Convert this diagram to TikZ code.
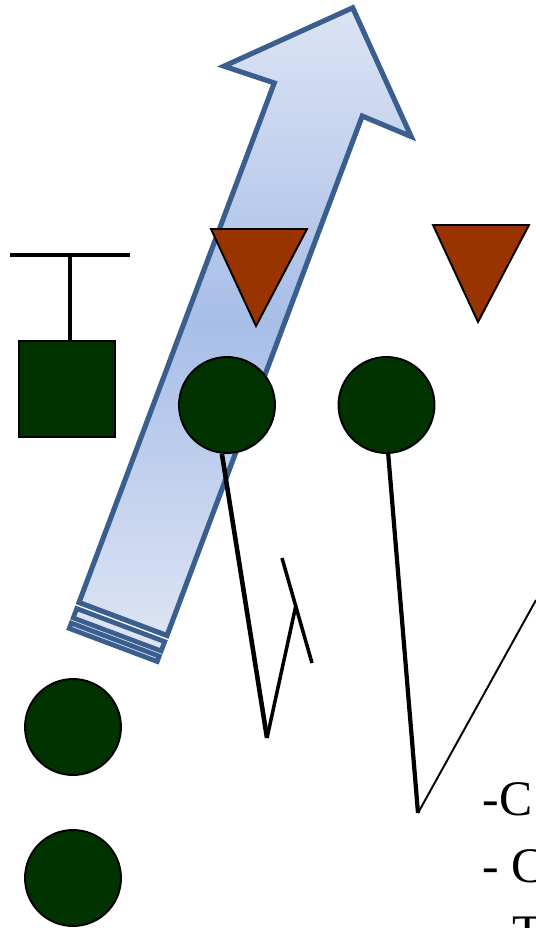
\documentclass[tikz,border=0pt]{standalone}
\usepackage{fontspec}
\setmainfont{Liberation Serif}
\definecolor{darkgreen}{HTML}{003300}
\definecolor{rust}{HTML}{993300}
\definecolor{arrowedge}{HTML}{3A5F8F}
\definecolor{arrowlight}{HTML}{DCE4F3}
\definecolor{arrowmid}{HTML}{A7BEE8}
\pgfdeclareverticalshading{arrowshade}{100bp}{color(0bp)=(arrowlight); color(25bp)=(arrowlight); color(50bp)=(arrowmid); color(75bp)=(arrowlight); color(100bp)=(arrowlight)}
\begin{document}
\begin{tikzpicture}[x=0.02cm, y=0.02cm, line width=2pt,
	dot/.style={circle, draw=black, line width=1.1pt, fill=darkgreen, minimum size=1.92cm, inner sep=0pt},
	tri/.style={draw=black, line width=1.1pt, fill=rust, line join=miter},
	stripe/.style={draw=arrowedge, line width=2.7pt, fill=arrowlight},
	txt/.style={anchor=base west, inner sep=0pt, font=\fontsize{28.3}{34}\selectfont}]
	\path[use as bounding box, clip] (0,0) rectangle (536,-928);
	% big striped arrow
	\begin{scope}[shift={(123,-619)}, rotate=69.4]
		\coordinate (tl) at (0,47); \coordinate (tr) at (0,-47);
		\coordinate (hl) at (555,47); \coordinate (hr) at (555,-47);
		\coordinate (bl) at (553,100); \coordinate (br) at (553,-100);
		\coordinate (tip) at (653,0);
		\draw[stripe] (-6.5,47) -- (-16.5,47) -- (-16.5,-47) -- (-6.5,-47) -- cycle;
		\draw[stripe] (-22,47) -- (-27.75,47) -- (-27.75,-47) -- (-22,-47) -- cycle;
	\end{scope}
	\draw[draw=arrowedge, line width=2.9pt, line join=miter, shading=arrowshade]
		(tl) -- (hl) -- (bl) -- (tip) -- (br) -- (hr) -- (tr) -- cycle;
	% T mark and square
	\node[draw=black, line width=1.1pt, fill=darkgreen, minimum size=1.92cm, inner sep=0pt] (sq) at (67,-389) {};
	\coordinate (bar) at (70,-255);
	\draw (10,-255) -- (130,-255);
	\draw[line width=2.3pt] (bar) -- (bar |- sq.north);
	% triangles
	\foreach \x/\y in {211/229, 433/225} {
		\draw[tri] (\x,-\y) -- (\x+96,-\y) -- (\x+45,-\y-97) -- cycle;
	}
	% circles
	\node[dot] (c1) at (227,-405) {};
	\node[dot] (c2) at (386.5,-405) {};
	\node[dot] (c3) at (73,-727) {};
	\node[dot] (c4) at (73,-878) {};
	% lines
	\coordinate (v1) at (267,-738); \coordinate (v2) at (296,-605);
	\coordinate (s1) at (282,-558); \coordinate (s2) at (312,-663);
	\coordinate (v3) at (418,-813); \coordinate (v4) at (536,-600);
	\draw[line width=2.6pt] (c1.-96) -- (v1);
	\draw (v1) -- (v2);
	\draw (s1) -- (s2);
	\draw[line width=2.4pt] (c2.-88) -- (v3);
	\draw[line width=1.1pt] (v3) -- (v4);
	% text
	\node[txt] (l1) at (481,-815) {-C};
	\node[txt] (l2) at (481,-882) {- C};
	\node[txt] (l3) at (511,-949) {T};
\end{tikzpicture}
\end{document}
